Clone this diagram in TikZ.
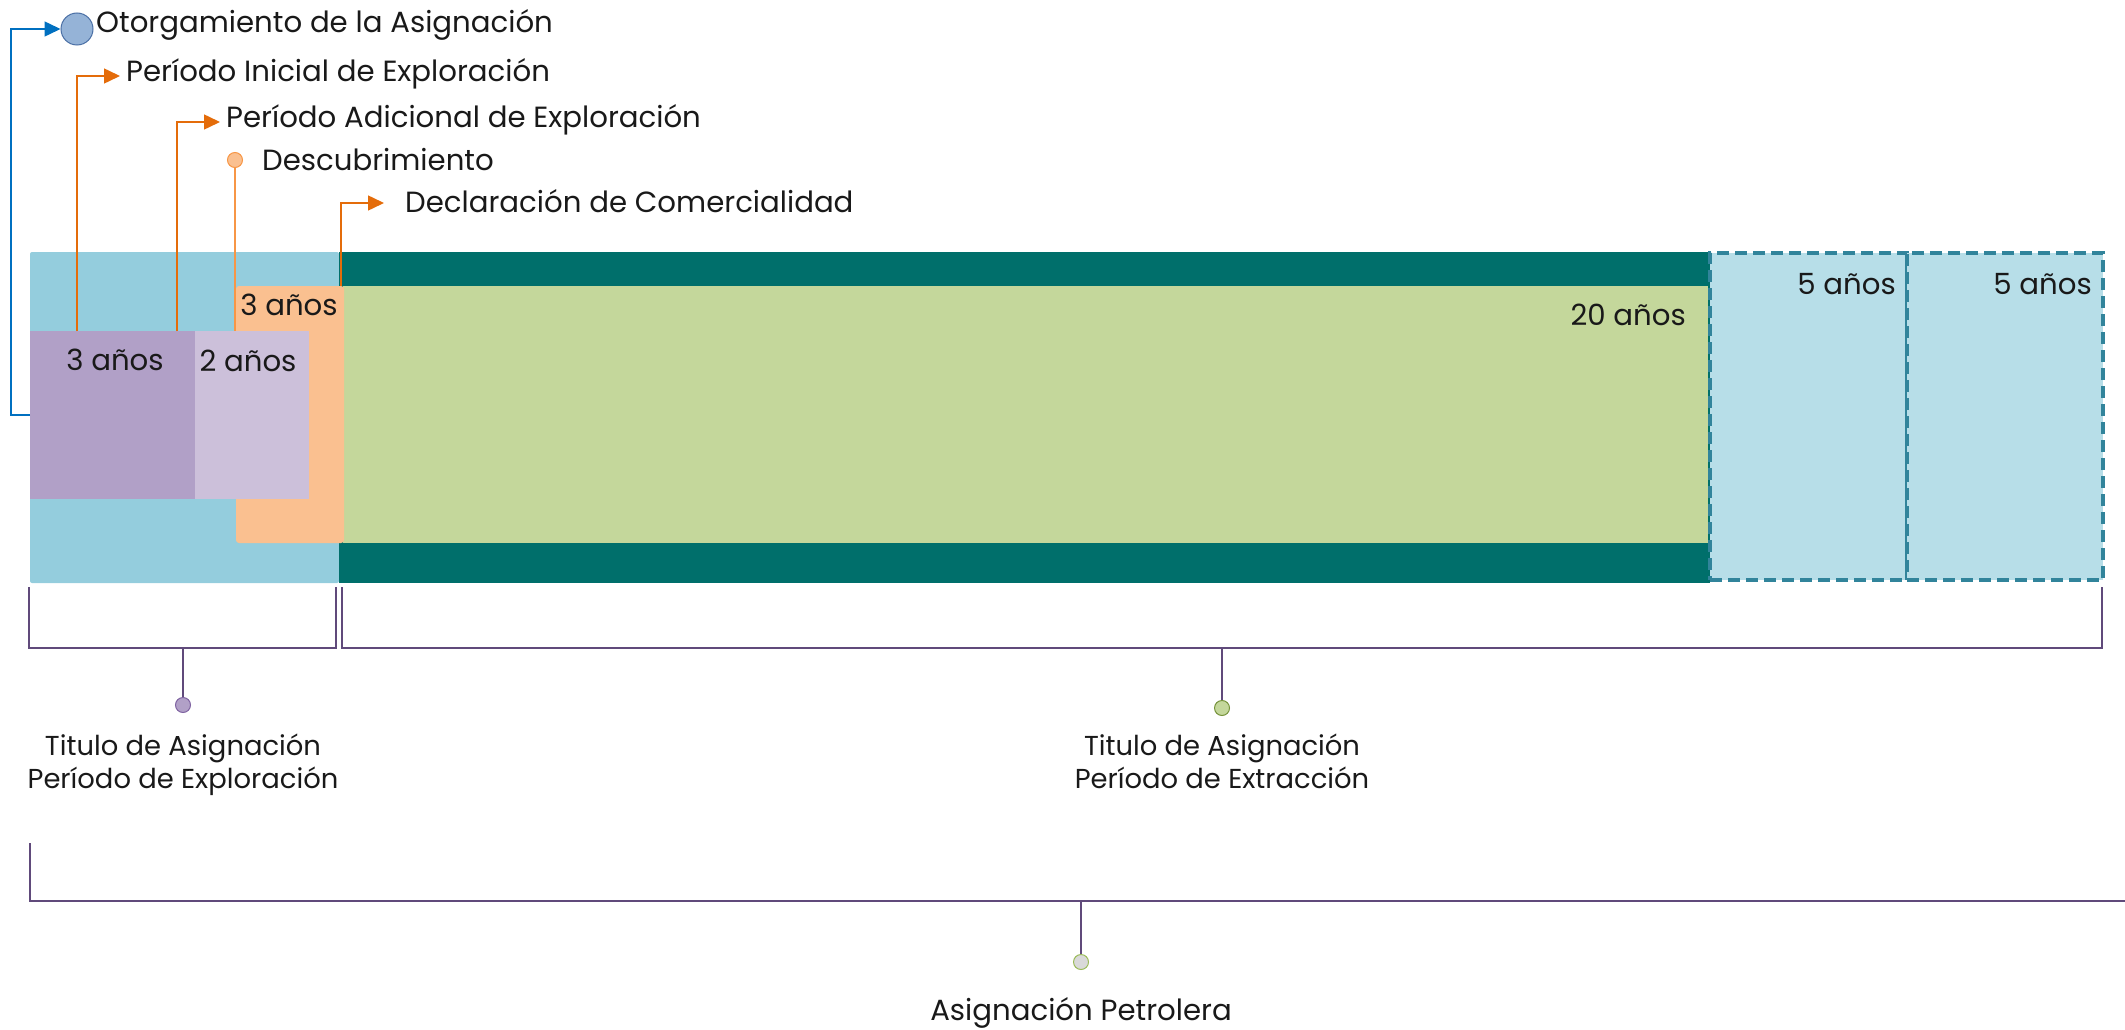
\documentclass[tikz,border=0pt]{standalone}
\usepackage{fontspec}
\setmainfont{Poppins}
\usetikzlibrary{arrows.meta}
\definecolor{lblue}{HTML}{94CDDD}
\definecolor{dteal}{HTML}{006F6B}
\definecolor{lgreen}{HTML}{C4D79B}
\definecolor{peach}{HTML}{FAC090}
\definecolor{lavdark}{HTML}{B1A0C7}
\definecolor{lavlight}{HTML}{CCC0DA}
\definecolor{dashfill}{HTML}{B7DEE8}
\definecolor{dashline}{HTML}{31849B}
\definecolor{orng}{HTML}{E46C0A}
\definecolor{orngl}{HTML}{F79646}
\definecolor{bline}{HTML}{0070C0}
\definecolor{cblue}{HTML}{95B3D7}
\definecolor{cbluel}{HTML}{4A6FA5}
\definecolor{brk}{HTML}{604A7B}
\definecolor{cpurl}{HTML}{8064A2}
\definecolor{cgreenl}{HTML}{77933C}
\definecolor{cgray}{HTML}{D9D9D9}
\definecolor{cgrayl}{HTML}{9BBB59}
\tikzset{
  blk/.style={draw=none, inner sep=0pt, outer sep=0pt, anchor=north west},
  big/.style={font=\fontsize{29.2}{33}\selectfont, inner sep=0pt, text=black!90},
  small/.style={font=\fontsize{27.4}{33}\selectfont, inner sep=0pt, text=black!90, align=center},
  oarrow/.style={draw=orng, line width=1.5pt, -{Triangle[length=16pt,width=15pt]}},
  brack/.style={draw=brk, line width=1.8pt},
  dot/.style={circle, inner sep=0pt, line width=1pt}
}
\begin{document}
\begin{tikzpicture}[x=1pt,y=-1pt]
\useasboundingbox (0,0) rectangle (2125,1030);
% main bars
\node[blk, fill=lblue, rounded corners=2pt, minimum width=309pt, minimum height=331pt] (expl) at (30,252) {};
\node[blk, fill=dteal, minimum width=1371pt, minimum height=331pt] (extr) at (339,252) {};
\node[blk, fill=lgreen, minimum width=1365pt, minimum height=257pt] (green) at (343,286) {};
\node[blk, fill=peach, rounded corners=3pt, minimum width=108pt, minimum height=257pt] (peachb) at (236,286) {};
\node[blk, fill=lavlight, minimum width=114pt, minimum height=168pt] (lavl) at (195,331) {};
\node[blk, fill=lavdark, minimum width=165pt, minimum height=168pt] (lavd) at (30,331) {};
\node[blk, fill=dashfill, draw=dashline, line width=3.5pt, dash pattern=on 12pt off 6pt, minimum width=197pt, minimum height=327pt] (ext1) at (1710,253) {};
\node[blk, fill=dashfill, draw=dashline, line width=3.5pt, dash pattern=on 12pt off 6pt, minimum width=196pt, minimum height=327pt] (ext2) at (1907,253) {};
% labels inside
\node[big, anchor=base] (t3a) at (115,370) {3 años};
\node[big, anchor=base] (t2a) at (248,371) {2 años};
\node[big, anchor=base] (t3b) at (289,315) {3 años};
\node[big, anchor=base east] (t20) at (1686,325) {20 años};
\node[big, anchor=base east] (t5a) at (1896,294) {5 años};
\node[big, anchor=base east] (t5b) at (2092,294) {5 años};
% top labels
\node[dot, fill=cblue, draw=cbluel, minimum size=32pt] (otc) at (77,29) {};
\node[big, anchor=base west] (otl) at (96,33) {Otorgamiento de la Asignación};
\node[big, anchor=base west] (inl) at (126,82) {Período Inicial de Exploración};
\coordinate (intip) at (120,76);
\node[big, anchor=base west] (adl) at (226,128) {Período Adicional de Exploración};
\coordinate (adtip) at (220,122);
\node[dot, fill=peach, draw=orngl, minimum size=15pt] (dsc) at (235,160) {};
\node[big, anchor=base west] (dsl) at (262,171) {Descubrimiento};
\node[big, anchor=base west] (dcl) at (405,212) {Declaración de Comercialidad};
\coordinate (dctip) at (384,203);
% connectors top
\draw[draw=bline, line width=1.5pt, -{Triangle[length=16pt,width=15pt]}] (lavd.west) -- ++(-19,0) |- (otc.west);
\draw[oarrow] ([xshift=47pt]lavd.north west) |- (intip);
\draw[oarrow] ([xshift=147pt]lavd.north west) |- (adtip);
\draw[draw=orngl, line width=1.5pt] (dsc.south) -- (dsc.south |- lavl.north);
\draw[oarrow] ([xshift=-2pt]green.north west) |- (dctip);
% brackets
\coordinate (b1a) at (29,587); \coordinate (b1b) at (336,587);
\draw[brack] (b1a) |- (b1b |- 0,648) -- (b1b);
\node[dot, fill=lavdark, draw=cpurl, minimum size=15pt] (c1) at (183,705) {};
\draw[brack] (c1.north) -- (c1.north |- 0,648);
\node[small, anchor=base] (l1) at (183,788) {Titulo de Asignación\\Período de Exploración};
\coordinate (b2a) at (342,587); \coordinate (b2b) at (2102,587);
\draw[brack] (b2a) |- (b2b |- 0,648) -- (b2b);
\node[dot, fill=lgreen, draw=cgreenl, minimum size=15pt] (c2) at (1222,708) {};
\draw[brack] (c2.north) -- (c2.north |- 0,648);
\node[small, anchor=base] (l2) at (1222,788) {Titulo de Asignación\\Período de Extracción};
\coordinate (b3a) at (30,843); \coordinate (b3b) at (2125,901);
\draw[draw=brk, line width=1.3pt] (b3a) |- (b3b);
\node[dot, fill=cgray, draw=cgrayl, minimum size=15pt] (c3) at (1081,962) {};
\draw[draw=brk, line width=1.3pt] (c3.north) -- (c3.north |- b3b);
\node[big, anchor=base] (l3) at (1081,1020) {Asignación Petrolera};
\end{tikzpicture}
\end{document}
